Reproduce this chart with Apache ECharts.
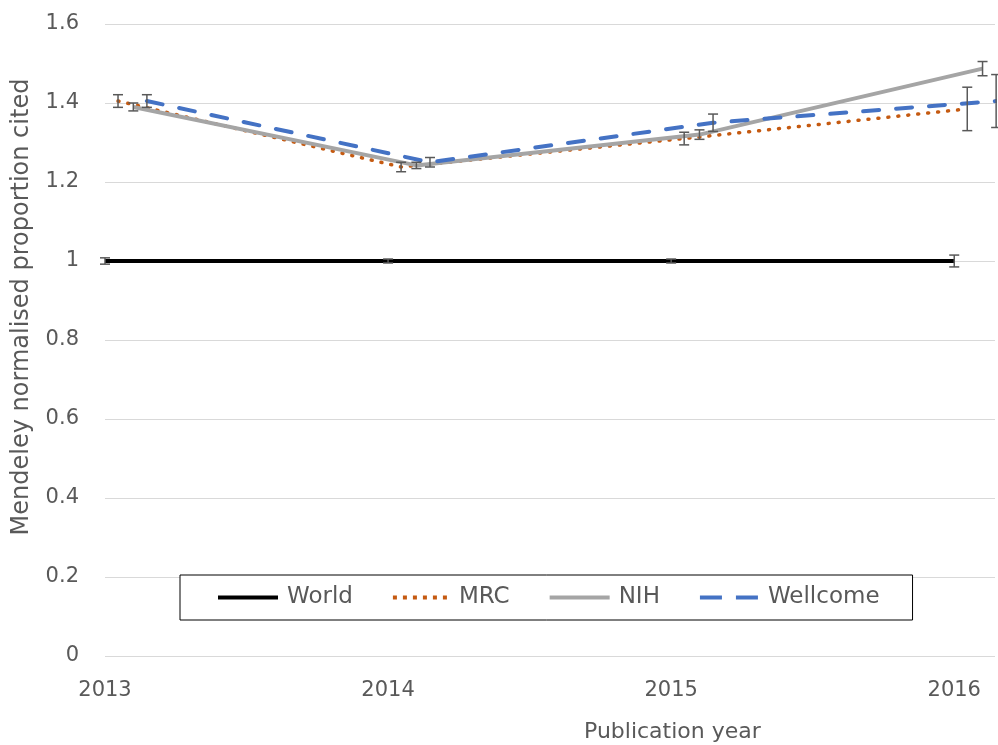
<!DOCTYPE html>
<html>
<head>
<meta charset="utf-8">
<script src="https://cdn.jsdelivr.net/npm/echarts@6/dist/echarts.min.js"></script>
<style>
  html, body { margin: 0; padding: 0; background: #fff; }
  #main { width: 998px; height: 745px; }
</style>
</head>
<body>
<div id="main"></div>
<script>
// publication years and the small x shift Excel used per series
var years = [2013, 2014, 2015, 2016];
var xShift = { World: 0, MRC: 0.046, NIH: 0.1, Wellcome: 0.148 };

var worldVals = [1, 1, 1, 1];
var worldErr = [0.008, 0.005, 0.005, 0.015];
var mrcVals = [1.405, 1.238, 1.31, 1.385];
var mrcErr = [0.016, 0.012, 0.016, 0.055];
var nihVals = [1.39, 1.242, 1.32, 1.487];
var nihErr = [0.01, 0.008, 0.012, 0.018];
var wellVals = [1.405, 1.25, 1.35, 1.405];
var wellErr = [0.016, 0.012, 0.022, 0.067];

var FONT = 'DejaVu Sans';
var GREY = '#595959';
var myChart = echarts.init(document.getElementById('main'));

function pts(name, vals) {
  return years.map(function (y, i) { return [y + xShift[name], vals[i]]; });
}
function errs(name, vals, err) {
  return years.map(function (y, i) { return [y + xShift[name], vals[i] - err[i], vals[i] + err[i]]; });
}

function errBar(params, api) {
  var x = api.value(0);
  var top = api.coord([x, api.value(2)]);
  var bot = api.coord([x, api.value(1)]);
  var hw = 5;
  var st = { stroke: GREY, lineWidth: 1.5 };
  return {
    type: 'group',
    children: [
      { type: 'line', shape: { x1: top[0], y1: top[1], x2: bot[0], y2: bot[1] }, style: st },
      { type: 'line', shape: { x1: top[0] - hw, y1: top[1], x2: top[0] + hw, y2: top[1] }, style: st },
      { type: 'line', shape: { x1: bot[0] - hw, y1: bot[1], x2: bot[0] + hw, y2: bot[1] }, style: st }
    ]
  };
}

function errSeries(name, vals, err) {
  return {
    name: name + ' error',
    type: 'custom',
    renderItem: errBar,
    data: errs(name, vals, err),
    z: 5,
    silent: true
  };
}

// legend swatches drawn as paths so dots / dashes look like the chart
var solidIcon = 'path://M0,0h60v4h-60z';
var dotIcon = 'path://M0,0h4v4h-4zM10,0h4v4h-4zM20,0h4v4h-4zM30,0h4v4h-4zM40,0h4v4h-4zM50,0h4v4h-4z';
var dashIcon = 'path://M0,0h22v4h-22zM36,0h22v4h-22z';

myChart.setOption({
  animation: false,
  textStyle: { fontFamily: FONT },
  grid: { left: 105, right: 0, top: 24, bottom: 89 },
  legend: {
    data: [
      { name: 'World', icon: solidIcon },
      { name: 'MRC', icon: dotIcon },
      { name: 'NIH', icon: solidIcon },
      { name: 'Wellcome', icon: dashIcon }
    ],
    left: 180,
    top: 575,
    padding: [11, 33, 11, 38],
    itemGap: 40,
    itemWidth: 60,
    itemHeight: 4,
    backgroundColor: '#fff',
    borderColor: '#000',
    borderWidth: 1,
    textStyle: { fontFamily: FONT, fontSize: 23, color: GREY, padding: [0, 0, 0, 4] }
  },
  xAxis: {
    type: 'value',
    min: 2013,
    max: 2016.144,
    interval: 1,
    axisLine: { show: false },
    axisTick: { show: false },
    splitLine: { show: false },
    axisLabel: {
      margin: 24,
      fontSize: 21,
      color: GREY,
      formatter: function (v) { return Number.isInteger(v) ? String(v) : ''; }
    }
  },
  yAxis: {
    type: 'value',
    min: 0,
    max: 1.6,
    interval: 0.2,
    axisLine: { show: false },
    axisTick: { show: false },
    axisLabel: { margin: 26, fontSize: 21, color: GREY },
    splitLine: { lineStyle: { color: '#d9d9d9', width: 1 } }
  },
  graphic: [
    {
      type: 'text',
      left: 584,
      top: 721,
      style: { text: 'Publication year', fontSize: 22, fill: GREY, fontFamily: FONT }
    },
    {
      type: 'text',
      x: 22,
      y: 307,
      rotation: Math.PI / 2,
      style: {
        text: 'Mendeley normalised proportion cited',
        fontSize: 24, fill: GREY, fontFamily: FONT,
        align: 'center', verticalAlign: 'middle'
      }
    }
  ],
  series: [
    {
      name: 'World', type: 'line', symbol: 'none', data: pts('World', worldVals),
      lineStyle: { color: '#000', width: 4 }, itemStyle: { color: '#000' }
    },
    {
      name: 'MRC', type: 'line', symbol: 'none', data: pts('MRC', mrcVals),
      lineStyle: { color: '#c55a11', width: 3.5, type: [1, 9], cap: 'round' }, itemStyle: { color: '#c55a11' }
    },
    {
      name: 'NIH', type: 'line', symbol: 'none', data: pts('NIH', nihVals),
      lineStyle: { color: '#a5a5a5', width: 4 }, itemStyle: { color: '#a5a5a5' }
    },
    {
      name: 'Wellcome', type: 'line', symbol: 'none', data: pts('Wellcome', wellVals),
      lineStyle: { color: '#4472c4', width: 4, type: [16, 17], cap: 'round' }, itemStyle: { color: '#4472c4' }
    },
    errSeries('World', worldVals, worldErr),
    errSeries('MRC', mrcVals, mrcErr),
    errSeries('NIH', nihVals, nihErr),
    errSeries('Wellcome', wellVals, wellErr)
  ]
});
</script>
</body>
</html>
